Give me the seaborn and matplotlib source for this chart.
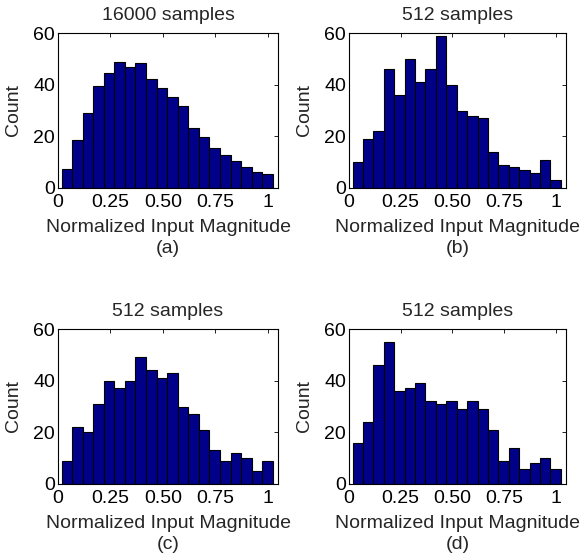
import numpy as np
import pandas as pd
import seaborn as sns
import matplotlib
matplotlib.use('Agg')
import matplotlib.pyplot as plt

# bin counts (20 bins each)
counts_a = [7.2, 18.5, 28.9, 39.4, 44.5, 48.8, 47.0, 48.5, 42.2, 38.6,
            35.4, 31.7, 23.1, 19.9, 15.6, 12.8, 10.5, 8.0, 6.1, 5.3]
counts_b = [10, 19, 22, 46, 36, 50, 41, 46, 59, 40,
            30, 28, 27, 14, 9, 8, 7, 6, 11, 3]
counts_c = [9, 22, 20, 31, 40, 37, 40, 49, 44, 41,
            43, 30, 27, 21, 13, 9, 12, 10, 5, 9]
counts_d = [16, 24, 46, 55, 36, 37, 39, 32, 31, 32,
            29, 32, 29, 21, 9, 14, 6, 8, 10, 6]

titles = ['16000 samples', '512 samples', '512 samples', '512 samples']
panel_tags = ['(a)', '(b)', '(c)', '(d)']
xticks = [0, 0.25, 0.5, 0.75, 1]
xtick_labels = ['0', '0.25', '0.50', '0.75', '1']
yticks = [0, 20, 40, 60]

edges = list(np.linspace(0.017, 1.025, 21))
centers = [(a + b) / 2 for a, b in zip(edges[:-1], edges[1:])]

sns.set_style('white')
plt.rcParams['font.family'] = ['Liberation Sans', 'DejaVu Sans']
plt.rcParams['font.size'] = 14

fig = plt.figure(figsize=(5.8, 5.59), dpi=100)
W, H = 580, 559
boxes = [(58, 33, 220, 155), (349, 33, 217, 155),
         (58, 329, 220, 155), (349, 329, 217, 155)]

for counts, title, tag, (l, t, w, h) in zip([counts_a, counts_b, counts_c, counts_d],
                                            titles, panel_tags, boxes):
    ax = fig.add_axes([l / W, 1 - (t + h) / H, w / W, h / H])
    df = pd.DataFrame({'x': centers, 'w': counts})
    sns.histplot(data=df, x='x', weights='w', bins=edges, ax=ax,
                 color='#000088', edgecolor='black', linewidth=0.8, alpha=1)
    ax.set_xlim(0, 1.05)
    ax.set_ylim(0, 60)
    ax.set_xticks(xticks)
    ax.set_xticklabels(xtick_labels)
    ax.set_yticks(yticks)
    ax.tick_params(direction='in', top=True, right=True, length=3,
                   width=0.6, labelsize=14, pad=2, colors='black')
    ax.tick_params(axis='x', pad=4)
    for s in ax.spines.values():
        s.set_color('black')
        s.set_linewidth(0.8)
    ax.set_title(title, fontsize=14, pad=9.5)
    ax.set_xlabel('Normalized Input Magnitude', fontsize=14, labelpad=6)
    ax.set_ylabel('Count', fontsize=14, labelpad=8)
    ax.text(0.5, -0.39, tag, transform=ax.transAxes, ha='center', va='center',
            fontsize=14)

fig.savefig('out.png', dpi=100, facecolor='white')
